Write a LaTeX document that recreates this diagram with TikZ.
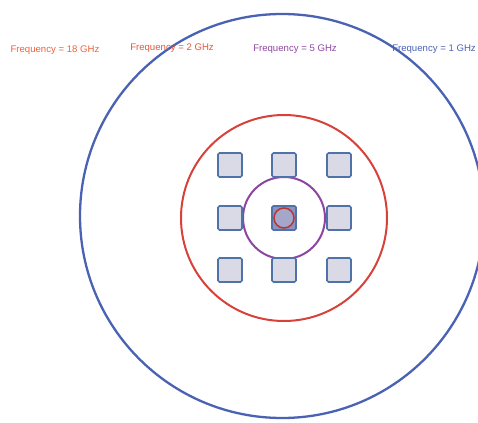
\documentclass[tikz,border=0pt]{standalone}
\usepackage{fontspec}
\setmainfont{Liberation Sans}
\definecolor{ringblue}{HTML}{4A62B4}
\definecolor{ringred}{HTML}{D8403A}
\definecolor{ringpurple}{HTML}{8E45A2}
\definecolor{lbl18}{HTML}{F0603C}
\definecolor{lbl2}{HTML}{E0583A}
\definecolor{cellfill}{HTML}{D9DAE6}
\definecolor{celledge}{HTML}{4F72A8}
\definecolor{corefill}{HTML}{8C93C2}
\definecolor{dotfill}{HTML}{A4A6CA}
\tikzset{
    ring/.style={circle, draw, line width=2pt, inner sep=0pt},
    cell/.style={draw=celledge, fill=cellfill, line width=1.6pt, rounded corners=1.5pt,
        minimum size=24pt, inner sep=0pt},
    freq/.style={font=\fontsize{9.6}{11}\selectfont}
}
\begin{document}
\begin{tikzpicture}[x=1pt, y=-1pt]
    \useasboundingbox (0,0) rectangle (478,422);
    \clip (0,0) rectangle (478,422);
    % Rings
    \node[ring, draw=ringblue, line width=2.3pt, minimum size=404pt] (r1) at (282,216) {};
    \node[ring, draw=ringred, minimum size=206pt] (r2) at (284,218) {};
    \node[ring, draw=ringpurple, minimum size=82pt] (r5) at (284,218) {};
    % Cells
    \foreach \i/\x in {1/230,2/284,3/339} {
        \foreach \j/\y in {1/165,2/218,3/270} {
            \node[cell] (c\i\j) at (\x,\y) {};
        }
    }
    \node[cell, fill=corefill] (core) at (c22) {};
    \node[ring, draw=ringred!85!black, fill=dotfill, line width=1.5pt,
        minimum size=20pt] (r18) at (core) {};
    % Labels
    \node[freq, text=lbl18] (f18) at (55,50) {Frequency = 18 GHz};
    \node[freq, text=lbl2] (f2) at (172,48) {Frequency = 2 GHz};
    \node[freq, text=ringpurple] (f5) at (295,49) {Frequency = 5 GHz};
    \node[freq, text=ringblue] (f1) at (434,49) {Frequency = 1 GHz};
\end{tikzpicture}
\end{document}
